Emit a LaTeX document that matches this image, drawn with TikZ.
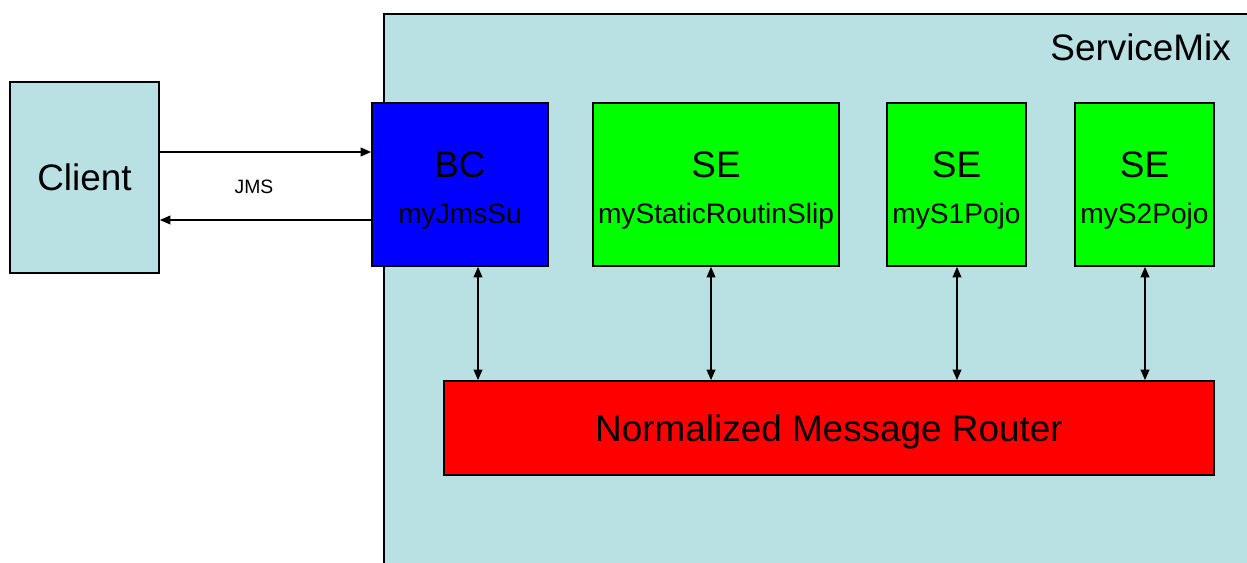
\documentclass[tikz,border=0pt]{standalone}
\usepackage{fontspec}
\setmainfont{Liberation Sans}
\usepackage{tikz}
\usepackage{xcolor}
\usetikzlibrary{arrows.meta}
\definecolor{mixblue}{RGB}{185,224,227}
\tikzset{
    unit-box/.style = {draw=black, line width=1pt, rectangle, minimum height=3.26cm, inner sep=0pt, align=center, font=\fontsize{16}{26}\selectfont},
    bc-box/.style = {unit-box, fill={rgb,255:red,0;green,0;blue,255}},
    se-box/.style = {unit-box, fill={rgb,255:red,0;green,255;blue,0}},
    flow/.style = {line width=0.8pt, -{Triangle[length=6pt,width=5pt]}},
    both-flow/.style = {line width=0.8pt, {Triangle[length=6pt,width=5pt]}-{Triangle[length=6pt,width=5pt]}},
}
\newcommand{\headfont}{\fontsize{21}{26}\selectfont}
\newcommand{\unittext}[2]{{\headfont\rule{0pt}{21.5pt}#1}\\#2}

\begin{document}
\begin{tikzpicture}[x=0.02cm, y=-0.02cm]
\useasboundingbox (0,0) rectangle (1247,563);
% ServiceMix container, runs off the right and bottom edges
\fill[mixblue] (384,14) rectangle (1260,580);
\draw[line width=1pt] (384,580) |- (1260,14);
\node[anchor=east, font=\headfont] (mix) at (1237,47) {ServiceMix};

\node[draw, line width=1pt, fill=mixblue, minimum width=2.98cm, minimum height=3.82cm, font=\headfont] (client) at (84.5,177.5) {Client};

\node[bc-box, minimum width=3.52cm] (bc) at (460,184.5) {\unittext{BC}{myJmsSu}};
\node[se-box, minimum width=4.92cm] (slip) at (716,184.5) {\unittext{SE}{myStaticRoutinSlip}};
\node[se-box, minimum width=2.78cm] (s1) at (956.5,184.5) {\unittext{SE}{myS1Pojo}};
\node[se-box, minimum width=2.78cm] (s2) at (1144.5,184.5) {\unittext{SE}{myS2Pojo}};

\node[draw, line width=1pt, fill={rgb,255:red,255;green,0;blue,0}, minimum width=15.4cm, minimum height=1.88cm, inner sep=0pt, text height=20pt, font=\headfont] (nmr) at (829,428) {Normalized Message Router};

% client <-> binding component
\draw[flow] ([yshift=0.51cm]client.east) -- ([yshift=0.51cm]client.east -| bc.west);
\draw[flow] ([yshift=-0.85cm]client.east -| bc.west) -- ([yshift=-0.85cm]client.east);
\node[font=\fontsize{11}{13}\selectfont] (jms) at (254,187) {JMS};

% units <-> router
\foreach \u/\dx in {bc/0.36cm, slip/-0.1cm, s1/0.01cm, s2/0.01cm}
    \draw[both-flow] ([xshift=\dx]\u.south) -- ([xshift=\dx]\u.south |- nmr.north);
\end{tikzpicture}
\end{document}
